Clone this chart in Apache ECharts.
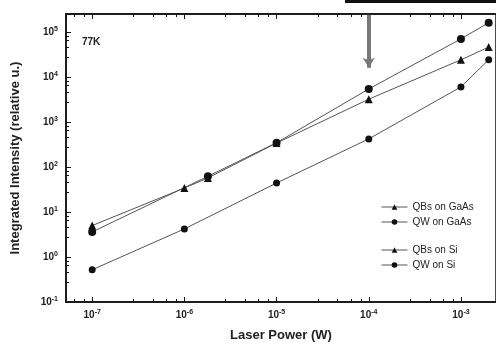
<!DOCTYPE html>
<html>
<head>
<meta charset="utf-8">
<script src="https://cdn.jsdelivr.net/npm/echarts@6/dist/echarts.min.js"></script>
<style>
html,body{margin:0;padding:0;background:#fff;}
#chart{width:496px;height:349px;}
</style>
</head>
<body>
<div id="chart"></div>
<script>
//功率依赖 77K

var seriesNames = ['QBs on GaAs', 'QW on GaAs', 'QBs on Si', 'QW on Si'];

// laser power (W)
var qbsGaAsX = [1e-7, 1e-6, 1.8e-6, 1e-5, 1e-4, 1e-3, 2e-3];
var qbsGaAsY = [5, 34, 57, 340, 3200, 24000, 46000];

var qwGaAsX = [1e-7, 1.8e-6, 1e-5, 1e-4, 1e-3, 2e-3];
var qwGaAsY = [3.6, 62, 345, 5400, 70000, 160000];

var qbsSiX = [];
var qbsSiY = [];

var qwSiX = [1e-7, 1e-6, 1e-5, 1e-4, 1e-3, 2e-3];
var qwSiY = [0.52, 4.2, 44, 420, 6000, 24000];

// arrow at 1e-4 W
var arrowX = 1e-4;
var arrowY = [2.4e5, 1.6e4];

function pairs(xs, ys) {
    var out = [];
    for (var i = 0; i < xs.length; i++) {
        out.push([xs[i], ys[i]]);
    }
    return out;
}

function powLabel(v) {
    var e = Math.log10(v);
    if (Math.abs(e - Math.round(e)) > 1e-6) return '';
    return '10{sup|' + Math.round(e) + '}';
}

var lineStyle = { color: '#555', width: 1 };
var itemStyle = { color: '#111' };

var myChart = echarts.init(document.getElementById("chart"));
option = {
    backgroundColor: '#fff',
    textStyle: { fontFamily: 'Liberation Sans' },
    grid: {
        left: 66,
        right: 0,
        top: 14,
        bottom: 47,
        show: true,
        borderColor: '#111',
        borderWidth: 1.5
    },
    legend: [
        {
            data: [seriesNames[0], seriesNames[1]],
            orient: 'vertical',
            left: 376,
            top: 197,
            itemWidth: 26,
            itemHeight: 7,
            itemGap: 5,
            lineStyle: { width: 1 },
            textStyle: { fontSize: 10, color: '#222' }
        },
        {
            data: [seriesNames[2], seriesNames[3]],
            orient: 'vertical',
            left: 376,
            top: 240,
            itemWidth: 26,
            itemHeight: 7,
            itemGap: 5,
            lineStyle: { width: 1 },
            textStyle: { fontSize: 10, color: '#222' }
        }
    ],
    graphic: [
        {
            type: 'text',
            left: 82,
            top: 37,
            style: { text: '77K', fontSize: 10, fontWeight: 'bold', fill: '#222', fontFamily: 'Liberation Sans' }
        },
        {
            type: 'rect',
            shape: { x: 345, y: 0, width: 151, height: 3 },
            style: { fill: '#111' }
        }
    ],
    xAxis: [
        {
            type: 'log',
            logBase: 10,
            min: 5.2e-8,
            max: 2.4e-3,
            name: 'Laser Power (W)',
            nameLocation: 'middle',
            nameGap: 27,
            nameTextStyle: { fontSize: 13, fontWeight: 'bold', color: '#222' },
            axisLine: { lineStyle: { color: '#111', width: 1.5 } },
            axisTick: { inside: true, length: 5, lineStyle: { color: '#111' } },
            minorTick: { show: true, splitNumber: 5, length: 3, lineStyle: { color: '#111' } },
            splitLine: { show: false },
            axisLabel: {
                formatter: powLabel,
                color: '#222',
                fontSize: 10,
                fontWeight: 'bold',
                margin: 7,
                showMinLabel: false,
                showMaxLabel: false,
                rich: { sup: { fontSize: 7, fontWeight: 'bold', verticalAlign: 'top', padding: [0, 0, 6, 0] } }
            }
        },
        {
            type: 'log',
            logBase: 10,
            min: 5.2e-8,
            max: 2.4e-3,
            position: 'top',
            axisLine: { lineStyle: { color: '#111', width: 1.5 } },
            axisTick: { inside: true, length: 5, lineStyle: { color: '#111' } },
            minorTick: { show: true, splitNumber: 5, length: 3, lineStyle: { color: '#111' } },
            splitLine: { show: false },
            axisLabel: { show: false }
        }
    ],
    yAxis: {
        type: 'log',
        logBase: 10,
        min: 0.1,
        max: 2.5e5,
        name: 'Integrated Intensity (relative u.)',
        nameLocation: 'middle',
        nameGap: 44,
        nameTextStyle: { fontSize: 13, fontWeight: 'bold', color: '#222' },
        axisLine: { lineStyle: { color: '#111', width: 1.5 } },
        axisTick: { inside: true, length: 5, lineStyle: { color: '#111' } },
        minorTick: { show: true, splitNumber: 5, length: 3, lineStyle: { color: '#111' } },
        splitLine: { show: false },
        axisLabel: {
            formatter: powLabel,
            color: '#222',
            fontSize: 10,
            fontWeight: 'bold',
            margin: 8,
            showMaxLabel: false,
            rich: { sup: { fontSize: 7, fontWeight: 'bold', verticalAlign: 'top', padding: [0, 0, 6, 0] } }
        }
    },
    series: [
        {
            name: seriesNames[0],
            type: 'line',
            symbol: 'triangle',
            symbolSize: 8,
            lineStyle: lineStyle,
            itemStyle: itemStyle,
            data: pairs(qbsGaAsX, qbsGaAsY),
            markLine: {
                silent: true,
                symbol: ['none', 'arrow'],
                symbolSize: [9, 10],
                label: { show: false },
                lineStyle: { color: '#777', width: 4, type: 'solid' },
                data: [[{ coord: [arrowX, arrowY[0]] }, { coord: [arrowX, arrowY[1]] }]]
            }
        },
        {
            name: seriesNames[1],
            type: 'line',
            symbol: 'circle',
            symbolSize: 8,
            lineStyle: lineStyle,
            itemStyle: itemStyle,
            data: pairs(qwGaAsX, qwGaAsY)
        },
        {
            name: seriesNames[2],
            type: 'line',
            symbol: 'triangle',
            symbolSize: 6,
            lineStyle: lineStyle,
            itemStyle: itemStyle,
            data: pairs(qbsSiX, qbsSiY)
        },
        {
            name: seriesNames[3],
            type: 'line',
            symbol: 'circle',
            symbolSize: 7,
            lineStyle: lineStyle,
            itemStyle: itemStyle,
            data: pairs(qwSiX, qwSiY)
        }
    ]
};
myChart.setOption(option);
</script>
</body>
</html>
